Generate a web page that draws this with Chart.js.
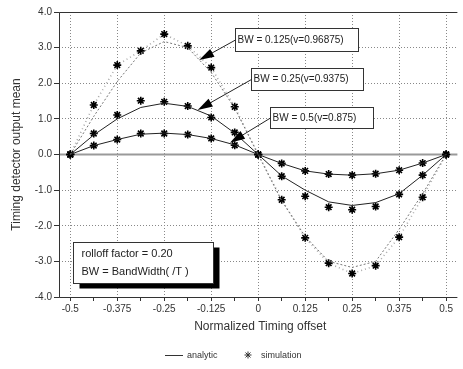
<!DOCTYPE html>
<html>
<head>
<meta charset="utf-8">
<script src="https://cdn.jsdelivr.net/npm/chart.js@4.4.0/dist/chart.umd.min.js"></script>
<style>
  html, body { margin: 0; padding: 0; background: #fff; }
</style>
</head>
<body>
<canvas id="c" width="463" height="369"></canvas>
<script>
// timing offsets (normalized)
var offsets = [-0.5, -0.4375, -0.375, -0.3125, -0.25, -0.1875, -0.125, -0.0625, 0,
               0.0625, 0.125, 0.1875, 0.25, 0.3125, 0.375, 0.4375, 0.5];
var xTickLabels = [-0.5, -0.375, -0.25, -0.125, 0, 0.125, 0.25, 0.375, 0.5];

// BW = 0.5
var lowAnalytic = [0, 0.25, 0.42, 0.57, 0.6, 0.56, 0.45, 0.27, 0, -0.25, -0.46, -0.55, -0.58, -0.54, -0.44, -0.24, 0];
var lowSim      = [0, 0.25, 0.42, 0.59, 0.59, 0.56, 0.45, 0.26, 0, -0.25, -0.46, -0.55, -0.58, -0.54, -0.44, -0.24, 0];
// BW = 0.25
var midAnalytic = [0, 0.55, 1.0, 1.32, 1.44, 1.35, 1.08, 0.6, 0, -0.6, -1.0, -1.33, -1.43, -1.35, -1.1, -0.58, 0];
var midSim      = [0, 0.59, 1.11, 1.51, 1.48, 1.36, 1.04, 0.62, 0, -0.61, -1.17, -1.48, -1.55, -1.46, -1.12, -0.58, 0];
// BW = 0.125
var highAnalytic = [0, 1.07, 2.05, 2.85, 3.17, 3.0, 2.3, 1.3, 0, -1.3, -2.3, -3.0, -3.17, -3.0, -2.1, -1.1, 0];
var highSim      = [0, 1.39, 2.51, 2.91, 3.38, 3.05, 2.44, 1.34, 0, -1.27, -2.34, -3.05, -3.34, -3.12, -2.32, -1.2, 0];

// callouts: text, box [x0, yTop, x1, yBottom] and arrow tip, in data units
var callouts = [
  { text: 'BW = 0.125(v=0.96875)', box: [-0.062, 3.55, 0.265, 2.91], tip: [-0.157, 2.65] },
  { text: 'BW = 0.25(v=0.9375)',   box: [-0.020, 2.43, 0.278, 1.81], tip: [-0.161, 1.25] },
  { text: 'BW = 0.5(v=0.875)',     box: [0.032, 1.33, 0.305, 0.74],  tip: [-0.075, 0.33] }
];
var noteLines = ['rolloff factor = 0.20', 'BW = BandWidth( /T )'];
var noteBox = [-0.494, -2.45, -0.12, -3.62];

function pts(ys) {
  return offsets.map(function (x, i) { return { x: x, y: ys[i] }; });
}

var FONT = '"Liberation Sans", Arial, sans-serif';
var INK = '#222';

function drawArrow(ctx, x1, y1, x2, y2) {
  var a = Math.atan2(y2 - y1, x2 - x1);
  var len = 15, w = 4.5;
  ctx.beginPath();
  ctx.moveTo(x1, y1);
  ctx.lineTo(x2 - Math.cos(a) * len * 0.8, y2 - Math.sin(a) * len * 0.8);
  ctx.lineWidth = 1;
  ctx.strokeStyle = INK;
  ctx.stroke();
  ctx.beginPath();
  ctx.moveTo(x2, y2);
  ctx.lineTo(x2 - Math.cos(a) * len - Math.sin(a) * w, y2 - Math.sin(a) * len + Math.cos(a) * w);
  ctx.lineTo(x2 - Math.cos(a) * len + Math.sin(a) * w, y2 - Math.sin(a) * len - Math.cos(a) * w);
  ctx.closePath();
  ctx.fillStyle = '#000';
  ctx.fill();
}

var extras = {
  id: 'extras',
  beforeDatasetsDraw: function (chart) {
    var ctx = chart.ctx, a = chart.chartArea, y = chart.scales.y;
    ctx.save();
    // zero line
    ctx.strokeStyle = '#9a9a9a';
    ctx.lineWidth = 2;
    ctx.beginPath();
    ctx.moveTo(a.left, y.getPixelForValue(0));
    ctx.lineTo(a.right, y.getPixelForValue(0));
    ctx.stroke();
    // frame
    ctx.strokeStyle = '#333';
    ctx.lineWidth = 1;
    ctx.beginPath();
    ctx.moveTo(a.right, a.top + 0.5);
    ctx.lineTo(a.left + 0.5, a.top + 0.5);
    ctx.lineTo(a.left + 0.5, a.bottom + 0.5);
    ctx.lineTo(a.right, a.bottom + 0.5);
    ctx.stroke();
    ctx.restore();
  },
  afterDraw: function (chart) {
    var ctx = chart.ctx, xs = chart.scales.x, ys = chart.scales.y, a = chart.chartArea;
    ctx.save();
    // callouts
    ctx.font = '10px ' + FONT;
    ctx.textBaseline = 'middle';
    callouts.forEach(function (c) {
      var x0 = Math.round(xs.getPixelForValue(c.box[0])) + 0.5;
      var x1 = Math.round(xs.getPixelForValue(c.box[2])) + 0.5;
      var y0 = Math.round(ys.getPixelForValue(c.box[1])) + 0.5;
      var y1 = Math.round(ys.getPixelForValue(c.box[3])) + 0.5;
      ctx.fillStyle = '#fff';
      ctx.fillRect(x0, y0, x1 - x0, y1 - y0);
      ctx.strokeStyle = '#333';
      ctx.lineWidth = 1;
      ctx.strokeRect(x0, y0, x1 - x0, y1 - y0);
      ctx.fillStyle = INK;
      ctx.fillText(c.text, x0 + 2, (y0 + y1) / 2);
      drawArrow(ctx, x0, (y0 + y1) / 2, xs.getPixelForValue(c.tip[0]), ys.getPixelForValue(c.tip[1]));
    });
    // note box with shadow
    var nx0 = Math.round(xs.getPixelForValue(noteBox[0])) + 0.5;
    var nx1 = Math.round(xs.getPixelForValue(noteBox[2])) + 0.5;
    var ny0 = Math.round(ys.getPixelForValue(noteBox[1])) + 0.5;
    var ny1 = Math.round(ys.getPixelForValue(noteBox[3])) + 0.5;
    ctx.fillStyle = '#000';
    ctx.fillRect(nx0 + 6, ny0 + 5, nx1 - nx0, ny1 - ny0);
    ctx.fillStyle = '#fff';
    ctx.fillRect(nx0, ny0, nx1 - nx0, ny1 - ny0);
    ctx.strokeStyle = '#333';
    ctx.strokeRect(nx0, ny0, nx1 - nx0, ny1 - ny0);
    ctx.fillStyle = INK;
    ctx.font = '11px ' + FONT;
    ctx.fillText(noteLines[0], nx0 + 8, ny0 + 11);
    ctx.fillText(noteLines[1], nx0 + 8, ny0 + 29);

    // axis titles
    ctx.fillStyle = '#333';
    ctx.font = '12px ' + FONT;
    ctx.textAlign = 'center';
    ctx.fillText('Normalized Timing offset', (a.left + a.right) / 2 + 2, 327);
    ctx.save();
    ctx.translate(17, (a.top + a.bottom) / 2);
    ctx.rotate(-Math.PI / 2);
    ctx.fillText('Timing detector output mean', 0, 0);
    ctx.restore();

    // legend
    ctx.font = '9px ' + FONT;
    ctx.textAlign = 'left';
    ctx.strokeStyle = '#333';
    ctx.lineWidth = 1;
    ctx.beginPath();
    ctx.moveTo(165, 355.5);
    ctx.lineTo(183, 355.5);
    ctx.stroke();
    ctx.fillText('analytic', 187, 356);
    Chart.helpers.drawPoint(ctx, { pointStyle: 'star', radius: 3.5, borderWidth: 1.5 }, 248, 355);
    ctx.fillText('simulation', 261, 356);
    ctx.restore();
  }
};

var lineDs = function (ys, dashed) {
  return {
    type: 'line', data: pts(ys), showLine: true, pointRadius: 0,
    borderColor: dashed ? '#777' : '#222', borderWidth: 1,
    borderDash: dashed ? [2, 2] : [], tension: 0, fill: false
  };
};
var simDs = function (ys, joined) {
  return {
    type: 'scatter', data: pts(ys), showLine: !!joined, pointStyle: 'star',
    pointRadius: 4, borderColor: '#000', backgroundColor: '#000', borderWidth: 1.6,
    segment: { borderColor: '#aaa', borderDash: [1, 3] }
  };
};

new Chart(document.getElementById('c'), {
  type: 'scatter',
  data: {
    datasets: [
      lineDs(highAnalytic, true), lineDs(midAnalytic, false), lineDs(lowAnalytic, false),
      simDs(highSim, true), simDs(midSim, false), simDs(lowSim, false)
    ]
  },
  options: {
    responsive: false,
    animation: false,
    devicePixelRatio: 1,
    layout: { padding: { top: 12, right: 0, left: 0, bottom: 0 } },
    plugins: { legend: { display: false }, tooltip: { enabled: false } },
    scales: {
      x: {
        type: 'linear', min: -0.53, max: 0.53,
        afterBuildTicks: function (s) {
          s.ticks = offsets.map(function (v) { return { value: v }; });
        },
        afterFit: function (s) { s.height = 72; },
        ticks: {
          autoSkip: false, maxRotation: 0, padding: 2,
          color: '#333', font: { family: FONT, size: 10 },
          callback: function (v) { return xTickLabels.indexOf(v) >= 0 ? String(v) : ''; }
        },
        grid: {
          color: function (c) {
            var v = c.tick && c.tick.value;
            return xTickLabels.indexOf(v) >= 0 ? '#888' : 'rgba(0,0,0,0)';
          },
          tickColor: '#333', tickLength: 4, drawOnChartArea: true
        },
        border: { display: false, dash: [1, 2] }
      },
      y: {
        min: -4, max: 4,
        afterFit: function (s) { s.width = 59; },
        ticks: {
          stepSize: 1, padding: 2, color: '#333', font: { family: FONT, size: 10 },
          callback: function (v) { return v.toFixed(1); }
        },
        grid: { color: '#888', tickColor: '#333', tickLength: 5 },
        border: { display: false, dash: [1, 2] }
      }
    }
  },
  plugins: [extras]
});
</script>
</body>
</html>
